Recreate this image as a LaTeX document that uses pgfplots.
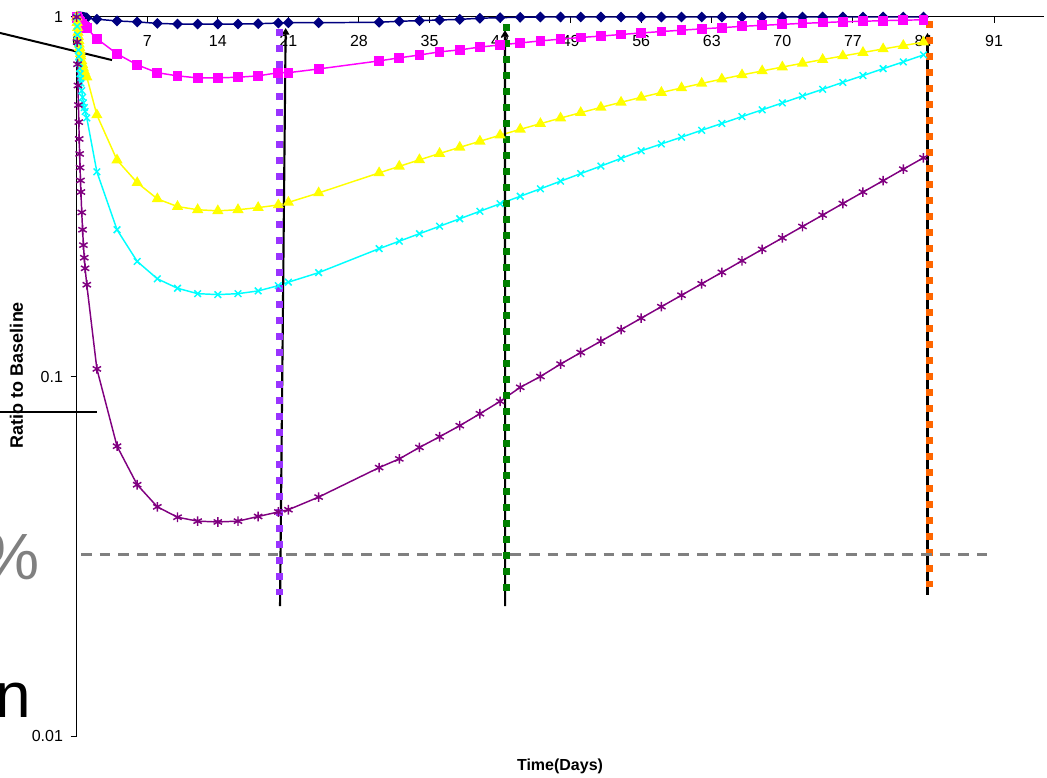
\documentclass[border=0pt]{standalone}
\usepackage{fontspec}
\setmainfont{Liberation Sans}
\usepackage{pgfplots}
\usepackage{pgfplotstable}
\pgfplotsset{compat=1.18}
\usetikzlibrary{arrows.meta}

\definecolor{navyc}{RGB}{0,0,128}
\definecolor{pinkc}{RGB}{255,0,255}
\definecolor{yellowc}{RGB}{255,255,0}
\definecolor{cyanc}{RGB}{0,255,255}
\definecolor{purplec}{RGB}{128,0,128}
\definecolor{violetc}{RGB}{153,51,255}
\definecolor{greenc}{RGB}{0,128,0}
\definecolor{orangec}{RGB}{255,102,0}
\definecolor{grayc}{RGB}{128,128,128}

\pgfplotstableread{
t      navy   pink   yellow  cyan    purple
0      1      1      1       1       1
0.042  1      0.995  0.965   0.942   0.852
0.083  1      0.990  0.934   0.892   0.739
0.125  1      0.985  0.906   0.848   0.645
0.167  1      0.980  0.882   0.809   0.569
0.208  1      0.976  0.860   0.776   0.510
0.25   1      0.972  0.840   0.745   0.458
0.292  1      0.968  0.822   0.719   0.416
0.333  1      0.965  0.806   0.695   0.381
0.375  1      0.962  0.791   0.674   0.351
0.417  1      0.959  0.778   0.655   0.326
0.5    0.999  0.954  0.755   0.624   0.286
0.583  0.999  0.949  0.737   0.598   0.256
0.667  0.998  0.945  0.721   0.577   0.232
0.75   0.997  0.941  0.708   0.560   0.214
0.833  0.996  0.938  0.697   0.546   0.200
1      0.995  0.930  0.681   0.524   0.180
2      0.986  0.870  0.534   0.371   0.105
4      0.975  0.790  0.400   0.256   0.064
6      0.969  0.736  0.346   0.209   0.050
8      0.960  0.700  0.312   0.187   0.0434
10     0.956  0.686  0.297   0.176   0.0406
12     0.956  0.677  0.291   0.170   0.0396
14     0.956  0.677  0.289   0.169   0.0394
16     0.956  0.680  0.291   0.170   0.0396
18     0.958  0.686  0.295   0.173   0.0408
20     0.962  0.700  0.300   0.179   0.0420
21     0.964  0.700  0.305   0.183   0.0426
24     0.964  0.717  0.324   0.1945  0.0462
30     0.967  0.755  0.3685  0.2268  0.0558
32     0.973  0.770  0.3843  0.2379  0.0590
34     0.977  0.784  0.4006  0.2496  0.0635
36     0.981  0.800  0.4172  0.2618  0.0680
38     0.985  0.810  0.4340  0.2747  0.0730
40     0.992  0.825  0.4512  0.2882  0.0788
42     0.996  0.836  0.4690  0.3024  0.0853
44     0.998  0.847  0.4870  0.3172  0.0933
46     1      0.858  0.5050  0.3328  0.1000
48     1      0.868  0.5235  0.3494  0.1083
50     1      0.877  0.5419  0.3668  0.1166
52     1      0.885  0.5605  0.3850  0.1254
54     1      0.894  0.5791  0.4043  0.1350
56     1      0.903  0.5980  0.4244  0.1453
58     1      0.911  0.6166  0.4435  0.1564
60     1      0.919  0.6350  0.4633  0.1683
62     1      0.927  0.6535  0.4842  0.1811
64     1      0.934  0.6718  0.5057  0.1949
66     1      0.942  0.6901  0.5285  0.2098
68     1      0.948  0.7079  0.5519  0.2258
70     1      0.954  0.7258  0.5768  0.2429
72     1      0.960  0.7437  0.6028  0.2614
74     1      0.965  0.7615  0.6296  0.2813
76     1      0.970  0.7792  0.6580  0.3028
78     1      0.973  0.7968  0.6873  0.3259
80     1      0.977  0.8149  0.7184  0.3505
82     1      0.980  0.8329  0.7502  0.3773
84     1      0.982  0.8511  0.7844  0.4058
}\data

\begin{document}
\begin{tikzpicture}
\begin{axis}[
  at={(57.53pt,31.5pt)}, anchor=south west,
  scale only axis, width=725.8pt, height=539.25pt,
  xmin=0, xmax=96, ymode=log, ymin=0.01, ymax=1,
  axis x line*=top, axis y line*=left,
  axis line style={black, line width=0.75pt},
  clip=false,
  xtick={0,7,14,21,28,35,42,49,56,63,70,77,84,91},
  ytick={0.01,0.1,1}, yticklabels={0.01,0.1,1},
  yminorticks=false, xminorticks=false,
  tick align=outside, major tick length=4.5pt,
  tick style={black, line width=0.75pt},
  xtick style={yshift=-4.5pt},
  /pgf/number format/assume math mode=true,
  ticklabel style={font=\fontsize{12}{12}\selectfont},
  yticklabel style={xshift=-2.3pt},
  xticklabel style={anchor=north, yshift=-15pt},
]
\addplot[navyc, line width=1.1pt, mark=diamond*, mark size=3.3pt, mark options={solid, fill=navyc, xscale=1.33}] table[x=t, y=navy] {\data};
\addplot[pinkc, line width=1.1pt, mark=square*, mark size=3.1pt, mark options={solid, fill=pinkc}] table[x=t, y=pink] {\data};
\addplot[yellowc, line width=1.1pt, mark=triangle*, mark size=3.8pt, mark options={solid, fill=yellowc}] table[x=t, y=yellow] {\data};
\addplot[cyanc, line width=1.1pt, mark=x, mark size=3.5pt, mark options={solid, line width=1.1pt}] table[x=t, y=cyan] {\data};
\addplot[purplec, line width=1.1pt, mark=asterisk, mark size=3.6pt, mark options={solid, line width=1.1pt}] table[x=t, y=purple] {\data};
% black arrows
\addplot[black, line width=1.6pt, -{Triangle[width=5.5pt,length=5pt]}] coordinates {(20.17,0.02296) (20.73,0.932)};
\addplot[black, line width=1.6pt, -{Triangle[width=5.5pt,length=5pt]}] coordinates {(42.50,0.02296) (42.49,0.92)};
\addplot[black, line width=1.6pt, -{Triangle[width=5.5pt,length=5pt]}] coordinates {(84.40,0.0247) (84.40,0.903)};
% dotted vertical lines
\addplot[violetc, line width=5.25pt, dash pattern=on 5.25pt off 6.75pt] coordinates {(20.1,0.925) (20.1,0.0246)};
\addplot[greenc, line width=5.25pt, dash pattern=on 5.25pt off 6.75pt] coordinates {(42.66,0.956) (42.66,0.0252)};
\addplot[orangec, line width=5.25pt, dash pattern=on 5.25pt off 6.75pt] coordinates {(84.55,0.975) (84.55,0.0259)};
% gray dashed threshold
\addplot[grayc, line width=2pt, dash pattern=on 8pt off 6pt] coordinates {(0.43,0.032) (90.3,0.032)};
% callout lines at left
\addplot[black, line width=1.5pt] coordinates {(-7.61,0.903) (3.5,0.759)};
\addplot[black, line width=1.5pt] coordinates {(-7.61,0.0799) (2.01,0.0799)};
\end{axis}
\node[anchor=base east, inner sep=0pt, text=grayc, font=\fontsize{49}{49}\selectfont] at (30pt,148.5pt) {\%};
\node[anchor=base east, inner sep=0pt, text=black, font=\fontsize{48}{48}\selectfont] at (23.3pt,45pt) {n};
\node[font=\bfseries\fontsize{12}{12}\selectfont] at (420pt,9pt) {Time(Days)};
\node[rotate=90, font=\bfseries\fontsize{13.5}{13.5}\selectfont] at (12.4pt,302.25pt) {Ratio to Baseline};
\pgfresetboundingbox
\useasboundingbox (0pt,0pt) rectangle (785.25pt,583.5pt);
\end{tikzpicture}
\end{document}
